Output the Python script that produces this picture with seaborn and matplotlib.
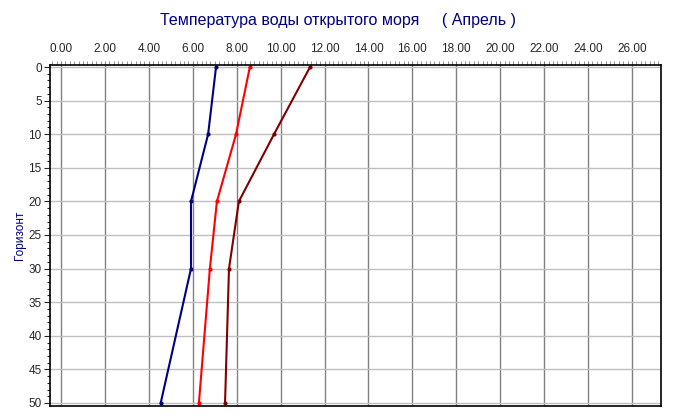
import matplotlib
matplotlib.use("Agg")
import matplotlib.pyplot as plt
import seaborn as sns
import pandas as pd
from matplotlib.ticker import MultipleLocator, FormatStrFormatter

depths = [0, 10, 20, 30, 50]
series_names = ["s1", "s2", "s3"]
temp_navy = [7.06, 6.70, 5.92, 5.92, 4.54]
temp_red = [8.60, 7.97, 7.10, 6.78, 6.28]
temp_darkred = [11.34, 9.70, 8.10, 7.65, 7.47]
colors = ["#000080", "#ff0000", "#800000"]
title = "Температура воды открытого моря     ( Апрель )"
ylabel = "Горизонт"

rows = []
for name, vals in zip(series_names, [temp_navy, temp_red, temp_darkred]):
    for d, t in zip(depths, vals):
        rows.append({"series": name, "depth": d, "temp": t})
df = pd.DataFrame(rows)

sns.set_style("white")
plt.rcParams["font.family"] = ["Liberation Sans", "DejaVu Sans"]

fig = plt.figure(figsize=(6.75, 4.19), dpi=100)
ax = fig.add_axes([50/675, 1-406/419, (661-50)/675, (406-65)/419])

sns.lineplot(data=df, x="temp", y="depth", hue="series", palette=colors,
             sort=False, orient="y", marker="o", markersize=3, linewidth=1.5,
             markeredgewidth=0, legend=False, ax=ax, estimator=None)

ax.set_xlim(-0.5, 27.32)
ax.set_ylim(50.45, -0.3)
ax.xaxis.tick_top()
ax.xaxis.set_major_locator(MultipleLocator(2))
ax.xaxis.set_minor_locator(MultipleLocator(0.2))
ax.xaxis.set_major_formatter(FormatStrFormatter("%.2f"))
ax.yaxis.set_major_locator(MultipleLocator(5))
ax.yaxis.set_minor_locator(MultipleLocator(1))

ax.tick_params(axis="x", which="both", bottom=False, labelbottom=False,
               top=True, labeltop=True, direction="out")
ax.tick_params(axis="x", which="major", length=3, width=0.8, color="#808080",
               labelsize=8.5, pad=4)
ax.tick_params(axis="x", which="minor", length=3, width=0.6, color="#808080")
ax.tick_params(axis="y", which="both", right=False, direction="out")
ax.tick_params(axis="y", which="major", length=4, width=0.8, labelsize=8.5,
               pad=2, left=True)
ax.tick_params(axis="y", which="minor", length=2.5, width=0.8, left=True)

ax.grid(False)
for x in range(0, 28, 2):
    ax.axvline(x, color="#808080", linewidth=1, zorder=0)
for y in range(0, 51, 5):
    ax.axhline(y, color="#c0c0c0", linewidth=1, zorder=0)

for s in ax.spines.values():
    s.set_color("black")
    s.set_linewidth(1.2)

ax.set_xlabel("")
ax.set_ylabel(ylabel, color="#000080", fontsize=8.5, labelpad=2)
fig.text(0.5, 1-20/419, title, ha="center", va="center", color="#000080",
         fontsize=11.5)

fig.savefig("out.png", dpi=100)
